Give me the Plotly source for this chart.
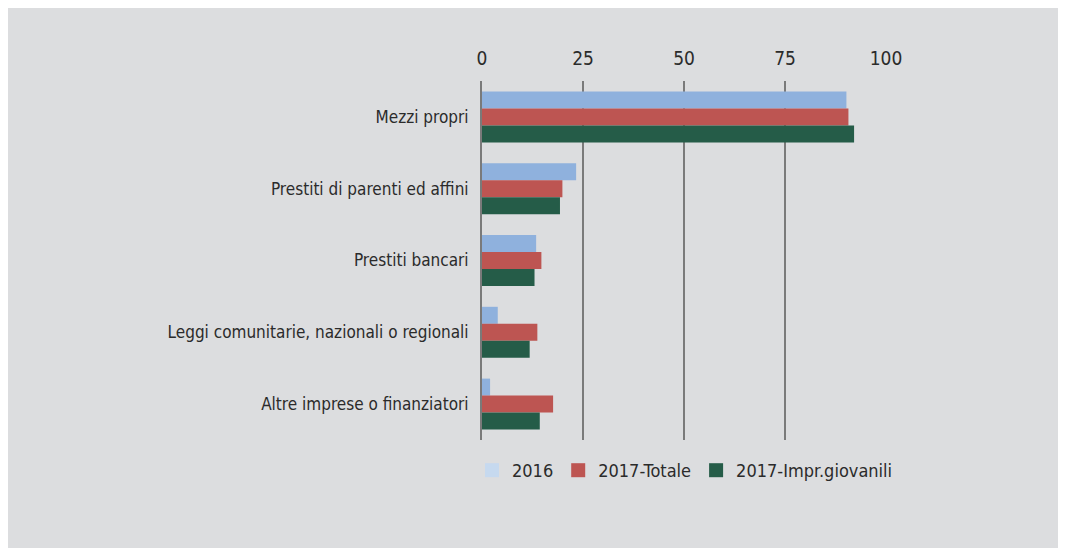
import plotly.graph_objects as go

categories = [
    "Mezzi propri",
    "Prestiti di parenti ed affini",
    "Prestiti bancari",
    "Leggi comunitarie, nazionali o regionali",
    "Altre imprese o finanziatori",
]
series_names = ["2016", "2017-Totale", "2017-Impr.giovanili"]
v2016 = [90.2, 23.3, 13.4, 3.9, 2.0]
v2017_tot = [90.7, 19.9, 14.7, 13.7, 17.6]
v2017_giov = [92.1, 19.3, 13.0, 11.8, 14.3]
tick_vals = [0, 25, 50, 75, 100]
tick_text = ["0", "25", "50", "75", "100"]

bar_colors = ["#8fb1dd", "#bd5552", "#255c48"]
legend_colors = ["#c6d9ef", "#bd5552", "#255c48"]
FONT = "Liberation Sans Narrow, DejaVu Sans Condensed, Arial Narrow, sans-serif"
TXT = "#2b2b2b"

fig = go.Figure()
for name, vals, col in zip(series_names, [v2016, v2017_tot, v2017_giov], bar_colors):
    fig.add_trace(go.Bar(
        y=categories, x=vals, name=name, orientation="h",
        marker=dict(color=col, line=dict(width=0)),
        showlegend=False, hoverinfo="x+name",
    ))
for name, col in zip(series_names, legend_colors):
    fig.add_trace(go.Scatter(
        y=[None], x=[None], name=name, mode="markers",
        marker=dict(color=col, symbol="square", size=14), showlegend=True,
    ))

# page has 8px body margin; figure drawn from (8,8)
W, H = 1050, 540
OFF = 8
L = 482 - OFF
R = W - (886 - OFF)
T = 81 - OFF
B = H - (440 - OFF)
pw, ph = W - L - R, H - T - B

def px_x(p):
    return (p - OFF - L) / pw

def px_y(p):
    return (H - B - (p - OFF)) / ph

fig.update_layout(
    width=W, height=H,
    margin=dict(l=L, r=R, t=T, b=B, pad=0),
    paper_bgcolor="#dcdddf",
    plot_bgcolor="rgba(0,0,0,0)",
    barmode="group",
    bargap=0.29,
    bargroupgap=0,
    font=dict(family=FONT, size=18, color=TXT),
    xaxis=dict(
        side="top", range=[0, 100], tickvals=tick_vals, ticktext=tick_text,
        showgrid=True, gridcolor="#7a7a7a", gridwidth=2,
        zeroline=False, showline=False,
        ticks="outside", ticklen=7, tickcolor="rgba(0,0,0,0)",
        tickfont=dict(family=FONT, size=19, color=TXT),
        fixedrange=True,
    ),
    yaxis=dict(
        autorange="reversed", showgrid=False, zeroline=False,
        showline=True, linecolor="#7a7a7a", linewidth=2,
        ticks="outside", ticklen=8, tickcolor="rgba(0,0,0,0)",
        tickfont=dict(family=FONT, size=17, color=TXT),
        fixedrange=True,
    ),
    legend=dict(
        orientation="h", x=px_x(472), xanchor="left", y=px_y(452), yanchor="top",
        font=dict(family=FONT, size=18, color=TXT),
        bgcolor="rgba(0,0,0,0)", itemclick=False, itemdoubleclick=False,
        traceorder="normal", itemwidth=30,
    ),
)

fig.write_html("out.html")
